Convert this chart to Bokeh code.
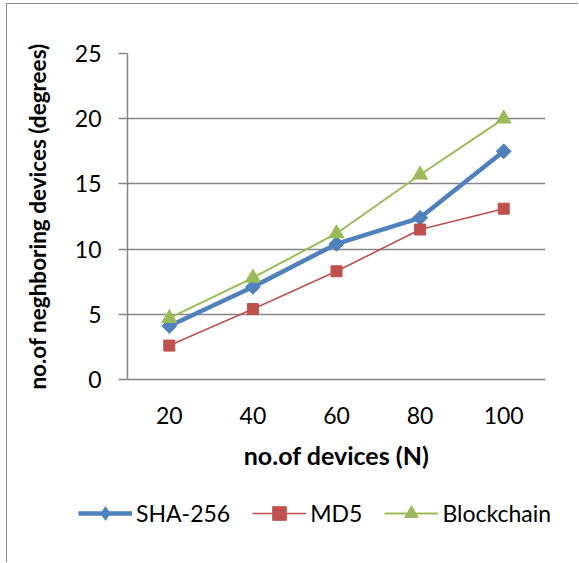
import math
from bokeh.plotting import figure
from bokeh.models import FactorRange, Range1d, Legend, LegendItem, FixedTicker
from bokeh.embed import file_html
from bokeh.resources import INLINE

devices = ["20", "40", "60", "80", "100"]
sha256 = [4.1, 7.1, 10.4, 12.4, 17.5]
md5 = [2.6, 5.4, 8.3, 11.5, 13.1]
blockchain = [4.7, 7.8, 11.2, 15.7, 20.0]
y_ticks = [0, 5, 10, 15, 20, 25]
series_names = ["SHA-256", "MD5", "Blockchain"]

FONT = "Lato"
GRID = "#868686"
BLUE = "#4F81BD"
RED = "#C0504D"
GREEN = "#9BBB59"
BORDER = "1.5px solid #8c8c8c"

p = figure(
    x_range=FactorRange(*devices, range_padding=0),
    y_range=Range1d(0, 25),
    width=572, height=486,
    output_backend="svg", toolbar_location=None,
    min_border_left=120, min_border_right=34,
    min_border_top=49, min_border_bottom=111,
    styles={"border-top": BORDER, "border-left": BORDER,
            "margin-left": "6px", "margin-top": "3px"},
)
p.outline_line_color = None
p.background_fill_color = "white"
p.border_fill_color = "white"

p.xgrid.grid_line_color = None
p.ygrid.grid_line_color = GRID
p.ygrid.grid_line_width = 1.4
p.yaxis.ticker = FixedTicker(ticks=y_ticks)

for ax in (p.xaxis[0], p.yaxis[0]):
    ax.axis_line_color = GRID
    ax.axis_line_width = 1.5
    ax.major_tick_line_color = GRID
    ax.major_tick_line_width = 1.5
    ax.minor_tick_line_color = None
    ax.major_label_text_font = FONT
    ax.major_label_text_font_size = "23px"
    ax.major_label_text_color = "black"
    ax.axis_label_text_font = FONT
    ax.axis_label_text_font_style = "bold"
    ax.axis_label_text_color = "black"

p.xaxis.major_tick_out = 0
p.xaxis.major_tick_in = 0
p.xaxis.major_label_standoff = 27
p.xaxis.axis_label = "no.of devices (N)"
p.xaxis.axis_label_text_font_size = "25px"
p.xaxis.axis_label_standoff = 13

p.yaxis.major_tick_out = 9
p.yaxis.major_tick_in = 0
p.yaxis.major_label_standoff = 17
p.yaxis.axis_label = "no.of neghboring devices (degrees)"
p.yaxis.axis_label_text_font_size = "22.5px"
p.yaxis.axis_label_standoff = 21

p.line(devices, sha256, line_color=BLUE, line_width=4.5)
p.scatter(devices, sha256, marker="square", angle=math.pi / 4, size=10.5,
          fill_color=BLUE, line_color=BLUE)
p.line(devices, md5, line_color=RED, line_width=1.6)
p.scatter(devices, md5, marker="square", size=11, fill_color=RED, line_color=RED)
p.line(devices, blockchain, line_color=GREEN, line_width=2)
p.scatter(devices, blockchain, marker="triangle", size=15,
          fill_color=GREEN, line_color=GREEN)

# legend strip below the chart (renderers hold one off-screen point each)
lg = figure(width=572, height=73, x_range=Range1d(0, 1), y_range=Range1d(0, 1),
            x_axis_location=None, y_axis_location=None,
            output_backend="svg", toolbar_location=None,
            min_border=0, min_border_left=0, min_border_right=0,
            min_border_top=0, min_border_bottom=0,
            styles={"border-left": BORDER, "margin-left": "6px"})
lg.grid.visible = False
lg.outline_line_color = None
lg.border_fill_color = "white"

off = [-5]
r1 = [lg.line(off, off, line_color=BLUE, line_width=4.5),
      lg.scatter(off, off, marker="diamond", size=15,
                 fill_color=BLUE, line_color=BLUE)]
r2 = [lg.line(off, off, line_color=RED, line_width=1.6),
      lg.scatter(off, off, marker="square", size=11, fill_color=RED, line_color=RED)]
r3 = [lg.line(off, off, line_color=GREEN, line_width=2),
      lg.scatter(off, off, marker="triangle", size=15, fill_color=GREEN, line_color=GREEN)]

legend = Legend(
    items=[LegendItem(label=series_names[0], renderers=r1),
           LegendItem(label=series_names[1], renderers=r2),
           LegendItem(label=series_names[2], renderers=r3)],
    orientation="horizontal",
    location=(71, 32),
    glyph_width=54, glyph_height=34,
    label_standoff=4, spacing=22, padding=0, margin=0,
    label_text_font=FONT, label_text_font_size="23px",
    label_text_color="black", label_height=23,
    border_line_color=None, background_fill_alpha=0,
)
lg.add_layout(legend, "center")

open("out.html", "w").write(file_html([p, lg], INLINE))
